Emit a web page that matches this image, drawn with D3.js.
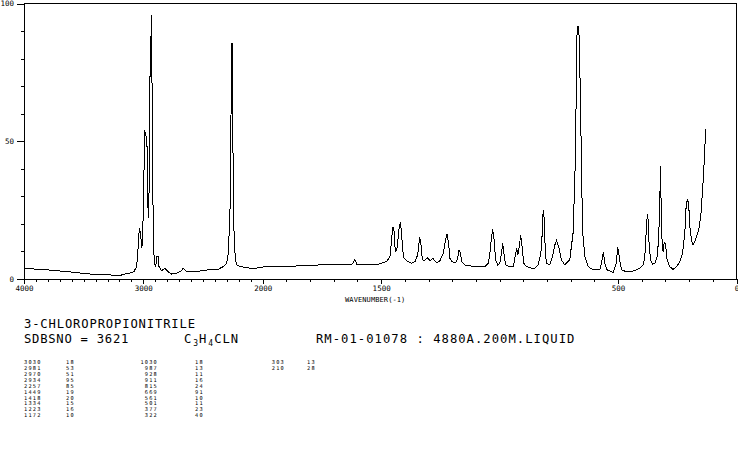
<!DOCTYPE html>
<html><head><meta charset="utf-8">
<script src="https://cdn.jsdelivr.net/npm/d3@7"></script>
<style>
html,body{margin:0;padding:0;background:#fff;}
svg{display:block;}
text{font-family:"DejaVu Sans Mono","Liberation Mono",monospace;fill:#000;}
</style></head><body>
<svg id="chart" width="738" height="457"></svg>
<script>
// ---- data ----
const specWave = [4000,3900,3799,3699,3598,3498,3397,3297,3196,3154,3112,3079,3056,3043,3034,3023,3014,3006,2995,2987,2981,2976,2970,2967,2959,2953,2945,2939,2934,2928,2922,2917,2908,2896,2889,2875,2869,2847,2819,2792,2763,2721,2679,2666,2637,2596,2526,2457,2373,2331,2317,2302,2289,2275,2268,2262,2254,2248,2240,2229,2215,2188,2146,2104,2062,1990,1927,1864,1793,1723,1653,1624,1618,1611,1603,1589,1568,1512,1477,1463,1456,1451,1446,1442,1438,1432,1425,1419,1414,1409,1403,1392,1371,1357,1346,1338,1333,1329,1322,1315,1303,1294,1282,1273,1265,1252,1238,1227,1222,1215,1210,1200,1186,1177,1171,1165,1160,1146,1118,1090,1062,1048,1041,1034,1029,1023,1017,1008,999,992,987,982,975,956,942,935,928,923,917,911,905,898,886,865,851,837,826,820,816,813,809,803,788,777,767,760,750,739,725,704,690,682,677,674,669,664,658,654,649,640,626,605,577,570,562,556,546,535,521,509,501,493,485,464,436,408,394,387,380,376,373,369,363,355,345,335,329,324,321,318,314,310,305,300,293,282,268,253,239,228,218,214,208,202,197,190,183,176,166,157,150,143,136,130];
const specInt = [3.8,3.6,3.3,2.9,2.5,2.0,1.6,1.5,1.3,1.8,2.2,2.7,4.5,11.7,18.4,16.7,11.1,14.1,38.4,53.4,53,51.5,51,38.4,22,28.7,73.4,74,96,74,41,16.8,5.7,4.5,8.1,8.1,4.5,3.0,3.9,2.6,1.8,2.1,3.0,3.9,2.6,2.6,2.9,3.3,3.5,4.5,5.1,5.7,9.3,22.6,40,85.5,85.5,40,16.7,6.9,5.1,4.5,4.2,3.9,3.9,4.5,4.6,4.7,5.0,5.2,5.3,5.4,5.9,7.1,5.4,5.3,5.1,5.4,6.3,8.1,14.1,19,17.8,11.7,9.9,11.7,17.8,20.8,16.6,10.5,7.5,6.6,5.7,6.3,8.7,14.8,14.1,8.7,6.6,6.9,7.7,6.6,7.5,6.6,5.9,6.6,9.3,14.8,16.2,12.9,7.5,6.3,5.9,7.5,10.5,9.3,6.3,5.1,4.7,4.5,4.5,5.7,9.3,15.3,18,14.1,6.9,5.1,5.7,9.3,13.2,9.3,5.1,4.5,4.5,8.1,11.1,8.7,11.7,16,11.7,5.7,4.5,3.9,3.9,5.1,9.3,16.6,25,23.8,14.1,5.7,5.1,8.1,12.3,13.9,11.7,6.9,5.1,6.9,16.6,37.1,63.7,87.9,91.8,87.9,62.5,37.1,16.6,8.1,4.5,3.3,3.3,5.7,9.9,5.7,3.3,3.0,2.3,5.1,11.5,6.9,3.3,2.6,2.9,3.9,5.1,8.1,19,23.6,21.4,12.9,6.9,5.4,5.7,8.1,14.1,26.2,41,26.2,12.9,9.9,13.2,12.9,6.9,4.5,3.5,4.5,6.3,9.3,16.6,25,28.9,27.5,19,14.1,12.3,13.5,16,19,23.8,32.3,43.2,54.4];

const xMajorTicks = [4000, 3000, 2000, 1500, 500, 0];
const yMajorTicks = [0, 50, 100];

const compoundName = "3-CHLOROPROPIONITRILE";
const sdbsLine = "SDBSNO = 3621";
const formulaParts = [["C", false], ["3", true], ["H", false], ["4", true], ["CLN", false]];
const sampleLine = "RM-01-01078 : 4880A.200M.LIQUID";
const xAxisTitle = "WAVENUMBER(-1)";

const peakWave1 = [3030, 2981, 2970, 2934, 2257, 1449, 1418, 1334, 1223, 1172];
const peakInt1  = [18, 53, 51, 95, 85, 19, 20, 15, 16, 10];
const peakWave2 = [1030, 987, 928, 911, 815, 669, 561, 501, 377, 322];
const peakInt2  = [18, 13, 11, 16, 24, 91, 10, 11, 23, 40];
const peakWave3 = [303, 210];
const peakInt3  = [13, 28];

// ---- layout ----
const svg = d3.select("#chart");
const L = 24, R = 736.5, T = 3.5, B = 279;
const x = d3.scaleLinear().domain([4000, 2000, 0]).range([L, 262.7, R]);
const y = d3.scaleLinear().domain([0, 100]).range([B, T]);

const axisG = svg.append("g").attr("shape-rendering", "crispEdges");

// bottom minor ticks
const xMinor = axisG.append("g").attr("transform", `translate(0,${B})`)
  .call(d3.axisBottom(x).tickValues(d3.range(4000, -1, -100)).tickSize(3).tickSizeOuter(0).tickFormat(""));
// bottom major ticks + labels
const xMajor = axisG.append("g").attr("transform", `translate(0,${B})`)
  .call(d3.axisBottom(x).tickValues(xMajorTicks).tickSize(5).tickSizeOuter(0).tickPadding(2).tickFormat(d3.format("d")));
xMajor.select(".domain").remove();
xMinor.select(".domain").attr("stroke", "#000");

// left minor ticks
const yMinor = axisG.append("g").attr("transform", `translate(${L},0)`)
  .call(d3.axisLeft(y).tickValues(d3.range(0, 101, 10)).tickSize(3).tickSizeOuter(0).tickFormat(""));
const yMajor = axisG.append("g").attr("transform", `translate(${L},0)`)
  .call(d3.axisLeft(y).tickValues(yMajorTicks).tickSize(7).tickSizeOuter(0).tickPadding(3).tickFormat(d3.format("d")));
yMajor.select(".domain").remove();

svg.selectAll(".tick line").attr("stroke", "#000");
svg.selectAll(".tick text").attr("font-size", 7.5).attr("font-family", '"DejaVu Sans Mono", monospace').attr("fill", "#000");

// frame top/right
axisG.append("line").attr("x1", L).attr("x2", R).attr("y1", T).attr("y2", T).attr("stroke", "#000");
axisG.append("line").attr("x1", R).attr("x2", R).attr("y1", T).attr("y2", B).attr("stroke", "#000");

// spectrum
const pts = specWave.map((w, i) => [w, specInt[i]]);
svg.append("path")
  .datum(pts)
  .attr("fill", "none")
  .attr("stroke", "#000")
  .attr("stroke-width", 1)
  .attr("shape-rendering", "crispEdges")
  .attr("d", d3.line().x(d => x(d[0])).y(d => y(d[1])));

// axis title
svg.append("text").attr("x", 345).attr("y", 302).attr("font-size", 7).attr("letter-spacing", 0.1).text(xAxisTitle);

// header
svg.append("text").attr("x", 24).attr("y", 327.7).attr("font-size", 12.2).attr("letter-spacing", 0.85).text(compoundName);
svg.append("text").attr("x", 24).attr("y", 343.3).attr("font-size", 12.2).attr("letter-spacing", 0.75).text(sdbsLine);
const ft = svg.append("text").attr("x", 184).attr("y", 343.3).attr("font-size", 12.2);
ft.selectAll("tspan").data(formulaParts).join("tspan")
  .attr("font-size", d => d[1] ? 8 : 12.2)
  .attr("dy", (d, i) => d[1] ? 2.5 : (i > 0 ? -2.5 : 0))
  .attr("dx", (d, i) => i > 0 ? 1 : 0)
  .attr("letter-spacing", d => d[1] ? 0 : 0.9)
  .text(d => d[0]);
svg.append("text").attr("x", 316).attr("y", 343.3).attr("font-size", 12.2).attr("letter-spacing", 1.03).text(sampleLine);

// peak table
const rowY = i => 364.4 + i * 5.85;
const tbl = svg.append("g").attr("font-size", 5.3).attr("letter-spacing", 1.2);
function col(vals, xPos, anchor) {
  tbl.append("g").selectAll("text").data(vals).join("text")
    .attr("x", xPos).attr("y", (d, i) => rowY(i))
    .attr("text-anchor", anchor).text(d => d);
}
col(peakWave1, 24, "start");
col(peakInt1, 66, "start");
col(peakWave2, 158, "end");
col(peakInt2, 195, "start");
col(peakWave3, 285, "end");
col(peakInt3, 307, "start");
</script>
</body></html>
